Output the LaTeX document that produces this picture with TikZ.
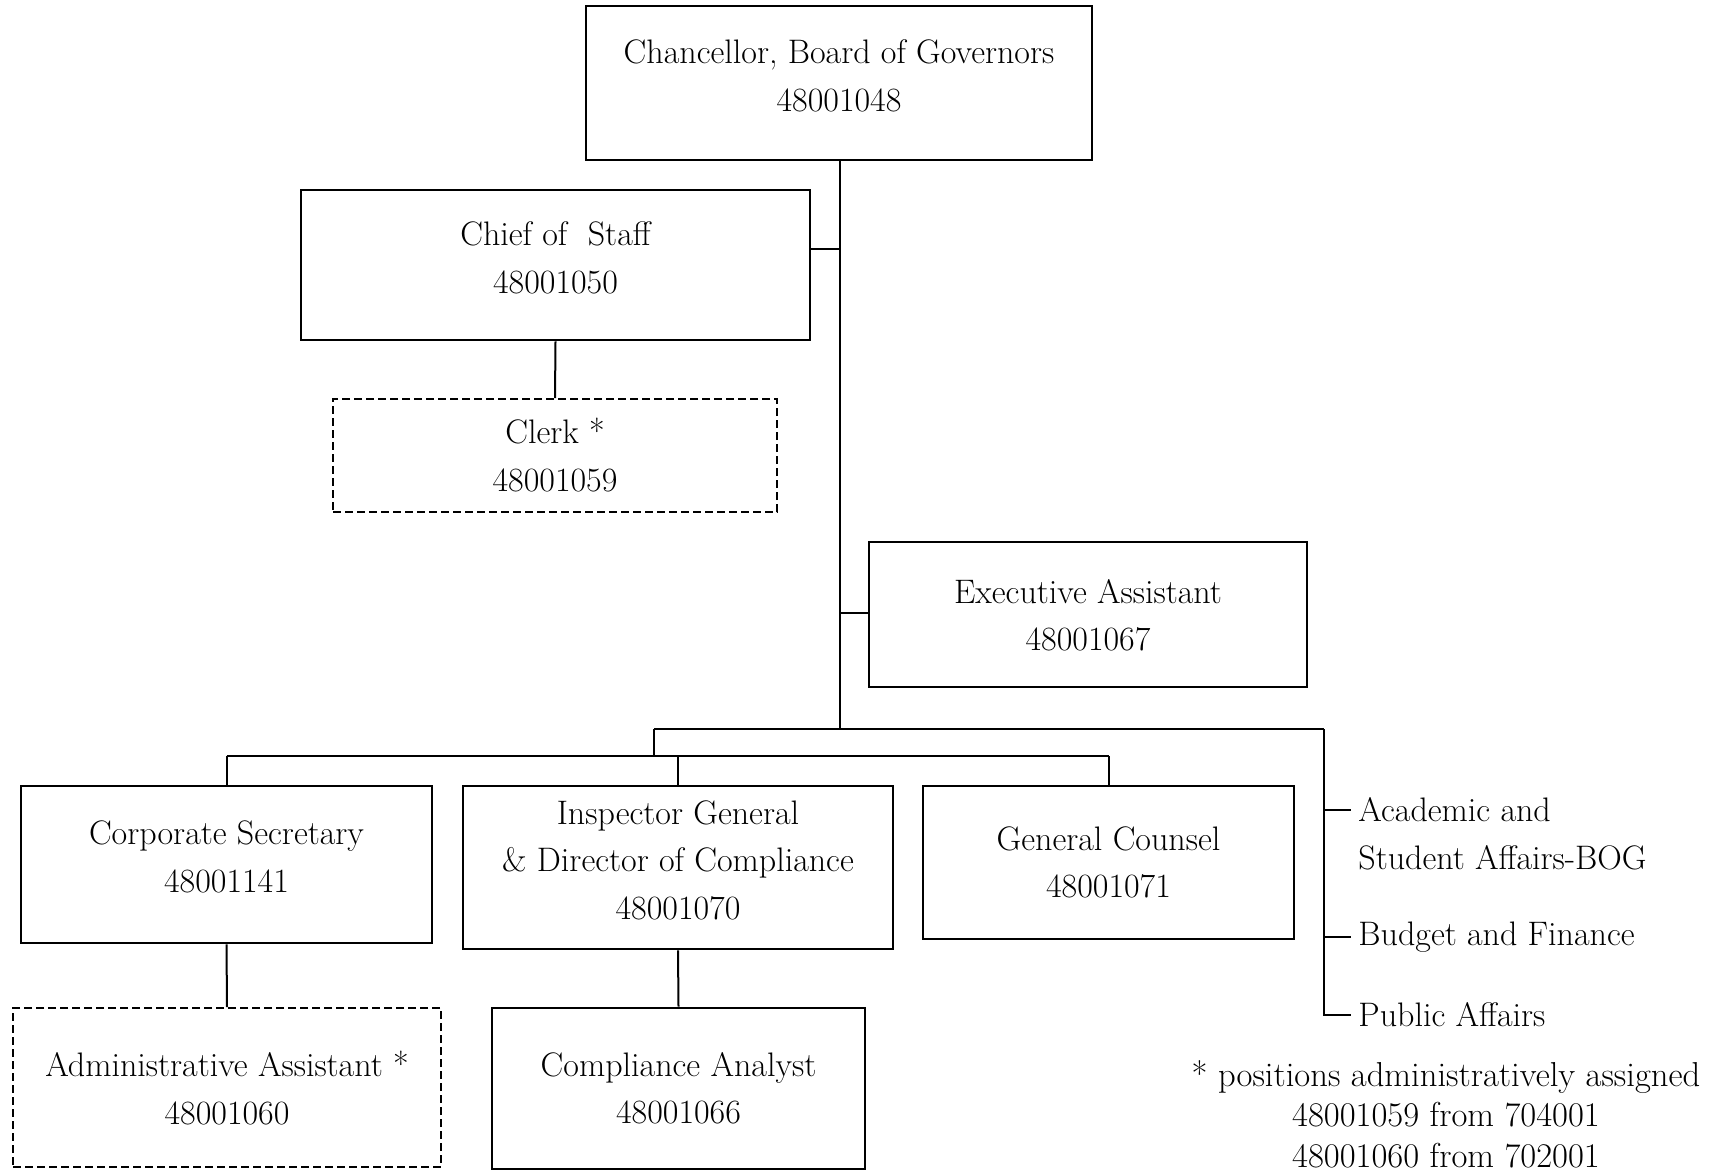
\documentclass[tikz,border=0pt]{standalone}
\usepackage{fontspec}
\begin{document}
\begin{tikzpicture}[x=0.5pt,y=-0.5pt,
  box/.style={draw,line width=1.3pt,rectangle,inner sep=0pt},
  dbox/.style={box,line width=1pt,dash pattern=on 4pt off 2pt},
  txt/.style={align=center,font=\fontsize{17}{23.75}\selectfont,inner sep=0pt},
  notetxt/.style={align=center,font=\fontsize{17.3}{20.2}\selectfont,inner sep=0pt},
  side/.style={anchor=west,font=\fontsize{17}{23.75}\selectfont,inner sep=0pt},
  link/.style={line width=1pt}]
\useasboundingbox (0,0) rectangle (1733,1173);

% position boxes
\node[box,minimum width=253pt,minimum height=77pt] (chan) at (839,83) {};
\node[txt] at (839,76) {Chancellor, Board of Governors\\48001048};

\node[box,minimum width=254.5pt,minimum height=75pt] (chief) at (555.5,265) {};
\node[txt] at (555.5,258) {Chief of\ \ Staff\\48001050};

\node[dbox,minimum width=222pt,minimum height=56.5pt] (clerk) at (555,455.5) {};
\node[txt] at (555,455) {Clerk *\\48001059};

\node[box,minimum width=219pt,minimum height=72.5pt] (exec) at (1088,614.5) {};
\node[txt] at (1088,615) {Executive Assistant\\48001067};

\node[box,minimum width=205.5pt,minimum height=78.5pt] (corp) at (226.5,864.5) {};
\node[txt] at (226.5,857) {Corporate Secretary\\48001141};

\node[box,minimum width=215pt,minimum height=81.5pt] (insp) at (678,867.5) {};
\node[txt] at (678,860) {Inspector General\\\& Director of Compliance\\48001070};

\node[box,minimum width=185.5pt,minimum height=76.5pt] (gc) at (1108.5,862.5) {};
\node[txt] at (1108.5,862.5) {General Counsel\\48001071};

\node[dbox,minimum width=214pt,minimum height=79.5pt] (admin) at (227,1087.5) {};
\node[txt] at (227,1088) {Administrative Assistant *\\48001060};

\node[box,minimum width=186.5pt,minimum height=80.5pt] (comp) at (678.5,1088.5) {};
\node[txt] at (678.5,1088) {Compliance Analyst\\48001066};

% committee labels
\node[side] (acad) at (1358,810) {Academic and};
\node[side] at (1358,858) {Student Affairs-BOG};
\node[side] (bud) at (1358,937) {Budget and Finance};
\node[side] (pub) at (1358,1015) {Public Affairs};

% footnote
\node[notetxt] (note) at (1446,1114) {* positions administratively assigned\\48001059 from 704001\\48001060 from 702001};

% junction points
\coordinate (spine) at (840,729);
\coordinate (chiefj) at (840,249);
\coordinate (execj) at (840,613);
\coordinate (busl) at (654,729);
\coordinate (busr) at (1324,729);
\coordinate (bus2) at (654,756);
\coordinate (rbot) at (1324,1015);

% connectors
\draw[link] (chan.south -| spine) -- (spine);
\draw[link] (chief.east |- chiefj) -- (chiefj);
\draw[link] (chief.south) -- (clerk.north);
\draw[link] (exec.west |- execj) -- (execj);
\draw[link] (busl) -- (busr);
\draw[link] (busl) -- (bus2);
\draw[link] (corp.north |- bus2) -- (gc.north |- bus2);
\draw[link] (corp.north |- bus2) -- (corp.north);
\draw[link] (insp.north |- bus2) -- (insp.north);
\draw[link] (gc.north |- bus2) -- (gc.north);
\draw[link] (corp.south) -- (admin.north);
\draw[link] (insp.south) -- (comp.north);
\draw[link] (busr) -- (rbot) -- ([xshift=-3.5pt]pub.west);
\draw[link] (busr |- acad.west) -- ([xshift=-3.5pt]acad.west);
\draw[link] (busr |- bud.west) -- ([xshift=-3.5pt]bud.west);
\end{tikzpicture}
\end{document}
